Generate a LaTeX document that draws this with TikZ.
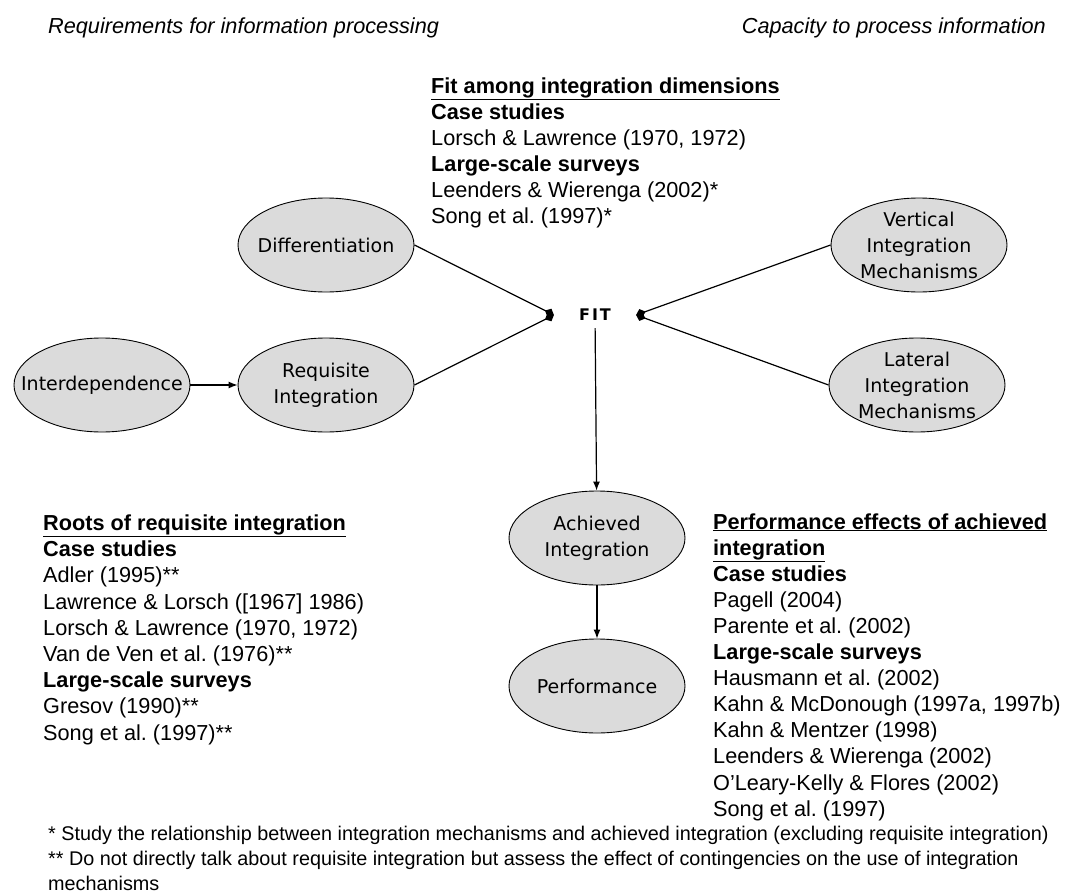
\documentclass[tikz,border=0pt]{standalone}
\usepackage{fontspec}
\setmainfont{Liberation Sans}
\newfontfamily\tahoma{DejaVu Sans}
\usetikzlibrary{arrows.meta,shapes.geometric}
\frenchspacing

\tikzset{
  oval/.style={ellipse,draw=black,line width=0.9pt,fill=black!14,
    minimum width=176pt,minimum height=94pt,inner sep=-20pt,align=center,
    font=\tahoma\fontsize{19}{26}\selectfont},
  fitlbl/.style={inner xsep=25pt,inner ysep=7pt,
    font=\tahoma\bfseries\fontsize{16}{16}\selectfont},
  lit/.style={anchor=base west,inner sep=0pt,font=\fontsize{21.7}{26}\selectfont},
  hdr/.style={inner sep=0pt,font=\itshape\fontsize{21.7}{26}\selectfont},
  note/.style={anchor=base west,inner sep=0pt,font=\fontsize{19.8}{25}\selectfont},
  conn/.style={->,line width=1.2pt},
  tofit/.style={-{Kite[length=10pt,width=9pt,inset=5pt]},line width=1.2pt}
}

\begin{document}
\begin{tikzpicture}[x=1pt,y=-1pt,>={Latex[length=9pt,width=7pt]}]
\useasboundingbox (0,0) rectangle (1065,896);
% ---------- headers ----------
\node[hdr,anchor=west] (reqhdr) at (48,28) {Requirements for information processing};
\node[hdr,anchor=east] (caphdr) at (1046,28) {Capacity to process information};
% ---------- ovals ----------
\node[oval] (differ) at (326,245) {Differentiation};
\node[oval] (inter) at (102,385) {Interdependence};
\node[oval] (requis) at (326,385) {Requisite\\Integration};
\node[oval] (vert) at (919,245) {Vertical\\Integration\\Mechanisms};
\node[oval] (lat) at (917,385) {Lateral\\Integration\\Mechanisms};
\node[oval] (achieved) at (597,538) {Achieved\\Integration};
\node[oval] (perf) at (597,686) {Performance};
\node[fitlbl] (fit) at (595,315) {F\kern2pt I\kern2pt T};
% ---------- arrows ----------
\draw[conn] (inter) -- (requis);
\draw[tofit] (differ.east) -- (fit.west);
\draw[tofit] (requis.east) -- (fit.west);
\draw[tofit] (vert.west) -- (fit.east);
\draw[tofit] (lat.west) -- (fit.east);
\draw[conn] (fit) -- (achieved);
\draw[conn] (achieved) -- (perf);
% ---------- literature: fit ----------
\foreach \t [count=\i] in {{\textbf{\underline{Fit among integration dimensions}}},
    {\textbf{Case studies}}, {Lorsch \& Lawrence (1970, 1972)},
    {\textbf{Large-scale surveys}}, {Leenders \& Wierenga (2002)*},
    {Song et al. (1997)*}}
  \node[lit] (fitlit\i) at (431,{93.5+(\i-1)*26}) {\t};
% ---------- literature: roots ----------
\foreach \t [count=\i] in {{\textbf{\underline{Roots of requisite integration}}},
    {\textbf{Case studies}}, {Adler (1995)**}, {Lawrence \& Lorsch ([1967] 1986)},
    {Lorsch \& Lawrence (1970, 1972)}, {Van de Ven et al. (1976)**},
    {\textbf{Large-scale surveys}}, {Gresov (1990)**}, {Song et al. (1997)**}}
  \node[lit] (roots\i) at (43,{530.5+(\i-1)*26.2}) {\t};
% ---------- literature: performance ----------
\foreach \t [count=\i] in {{\textbf{\underline{Performance effects of achieved}}},
    {\textbf{\underline{integration}}}, {\textbf{Case studies}}, {Pagell (2004)},
    {Parente et al. (2002)}, {\textbf{Large-scale surveys}},
    {Hausmann et al. (2002)}, {Kahn \& McDonough (1997a, 1997b)},
    {Kahn \& Mentzer (1998)}, {Leenders \& Wierenga (2002)},
    {O’Leary-Kelly \& Flores (2002)}, {Song et al. (1997)}}
  \node[lit] (perflit\i) at (713,{529+(\i-1)*26.1}) {\t};
% ---------- footnotes ----------
\node[note] (note1) at (48,840) {* Study the relationship between integration mechanisms and achieved integration (excluding requisite integration)};
\node[note] (note2) at (48,865) {** Do not directly talk about requisite integration but assess the effect of contingencies on the use of integration};
\node[note] (note3) at (48,890) {mechanisms};
\end{tikzpicture}
\end{document}
